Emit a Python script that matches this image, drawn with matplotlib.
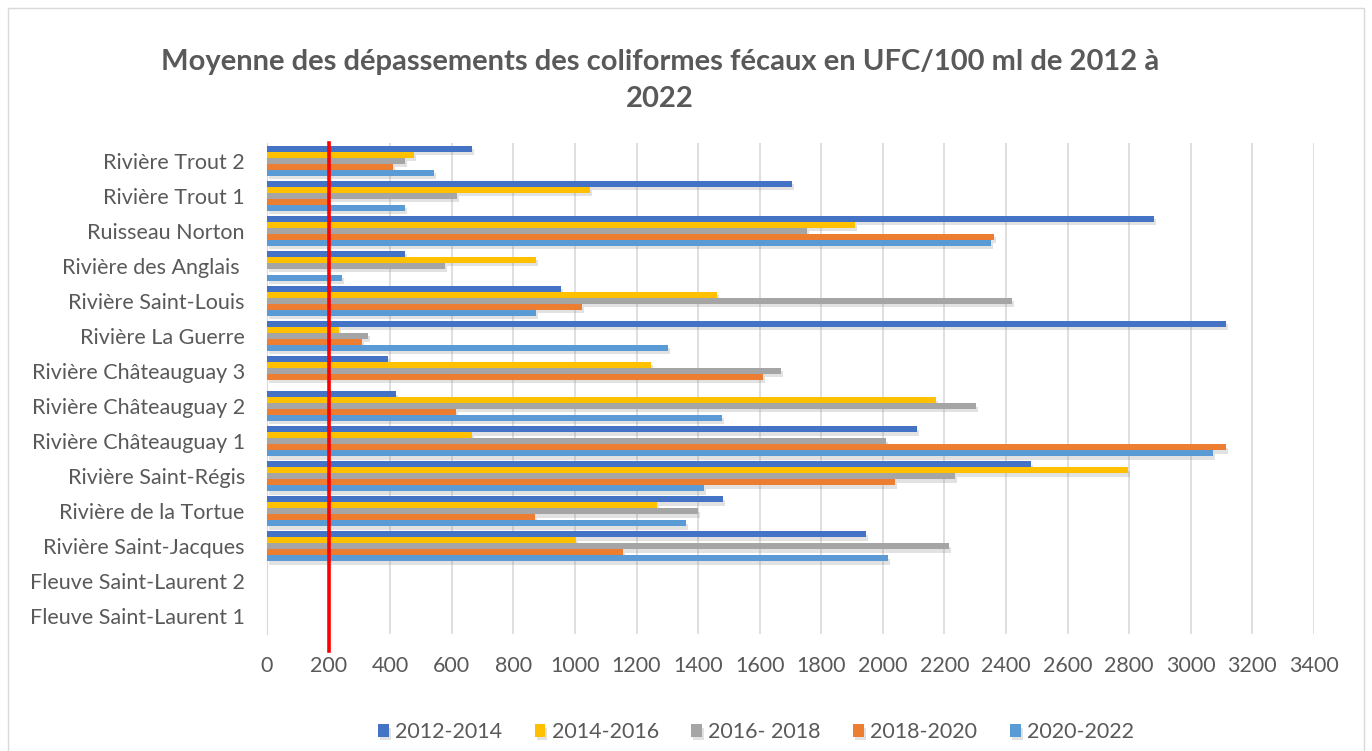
import numpy as np
import matplotlib
matplotlib.use("Agg")
import matplotlib.pyplot as plt
import matplotlib.patheffects as pe
from matplotlib.patches import Rectangle

plt.rcParams["font.family"] = ["Lato", "DejaVu Sans"]

stations = [
    "Rivière Trout 2",
    "Rivière Trout 1",
    "Ruisseau Norton",
    "Rivière des Anglais ",
    "Rivière Saint-Louis",
    "Rivière La Guerre",
    "Rivière Châteauguay 3",
    "Rivière Châteauguay 2",
    "Rivière Châteauguay 1",
    "Rivière Saint-Régis",
    "Rivière de la Tortue",
    "Rivière Saint-Jacques",
    "Fleuve Saint-Laurent 2",
    "Fleuve Saint-Laurent 1",
]

periods = ["2012-2014", "2014-2016", "2016- 2018", "2018-2020", "2020-2022"]

# values per station, top to bottom (0 = no exceedance)
v_2012_2014 = [665, 1705, 2881, 448, 955, 3115, 392, 419, 2110, 2482, 1480, 1945, 0, 0]
v_2014_2016 = [477, 1049, 1908, 873, 1461, 234, 1247, 2172, 666, 2796, 1266, 1003, 0, 0]
v_2016_2018 = [448, 617, 1755, 578, 2420, 328, 1669, 2302, 2010, 2234, 1399, 2215, 0, 0]
v_2018_2020 = [409, 200, 2360, 0, 1023, 308, 1610, 614, 3115, 2039, 870, 1156, 0, 0]
v_2020_2022 = [542, 448, 2352, 244, 873, 1301, 0, 1477, 3073, 1419, 1360, 2017, 0, 0]

series = [v_2012_2014, v_2014_2016, v_2016_2018, v_2018_2020, v_2020_2022]
colors = ["#4472C4", "#FFC000", "#A5A5A5", "#ED7D31", "#5B9BD5"]

seuil = 200

fig = plt.figure(figsize=(13.72, 7.51), dpi=100)
ax = fig.add_axes([0.1946, 0.1558, 0.7631, 0.6538])

n = len(stations)
pos = np.arange(n)[::-1]  # first station on top
h = 0.171
shadow = [pe.SimplePatchShadow(offset=(1.5, -2.5), shadow_rgbFace="#8c8c8c", alpha=0.25), pe.Normal()]

for k, (vals, col, lab) in enumerate(zip(series, colors, periods)):
    off = (2 - k) * h
    bars = ax.barh(pos + off, vals, height=h, color=col, label=lab, zorder=3)
    for b in bars:
        b.set_path_effects(shadow)

ax.axvline(seuil, color="#FF0000", lw=2.6, zorder=5, ymin=-0.035, ymax=1, clip_on=False)

ax.set_xlim(0, 3400)
ax.set_ylim(-0.5, n - 0.5)
ax.set_xticks(np.arange(0, 3401, 200))
ax.set_yticks(pos)
ax.set_yticklabels(stations)
ax.grid(axis="x", color="#D9D9D9", lw=1.2, zorder=0)
ax.set_axisbelow(True)
for s in ["top", "right", "bottom"]:
    ax.spines[s].set_visible(False)
ax.spines["left"].set_color("#D9D9D9")
ax.tick_params(axis="both", length=0, labelsize=15.5, labelcolor="#595959")
ax.tick_params(axis="y", pad=16)
ax.tick_params(axis="x", pad=16)

fig.text(0.481, 0.893, "Moyenne des dépassements des coliformes fécaux en UFC/100 ml de 2012 à\n2022",
         ha="center", va="center", fontsize=21, fontweight="bold", color="#595959", linespacing=1.55)

fig.legend(loc="center", bbox_to_anchor=(0.551, 0.025), ncol=5, frameon=False,
           fontsize=15.5, handlelength=0.5, handleheight=0.5, columnspacing=1.5,
           handletextpad=0.3, labelcolor="#595959")

fig.patches.append(Rectangle((8 / 1372, -0.01), 1356 / 1372, 1 - 8 / 751 + 0.01,
                             transform=fig.transFigure, fill=False, edgecolor="#D9D9D9", lw=1))

fig.savefig("out.png", dpi=100)
